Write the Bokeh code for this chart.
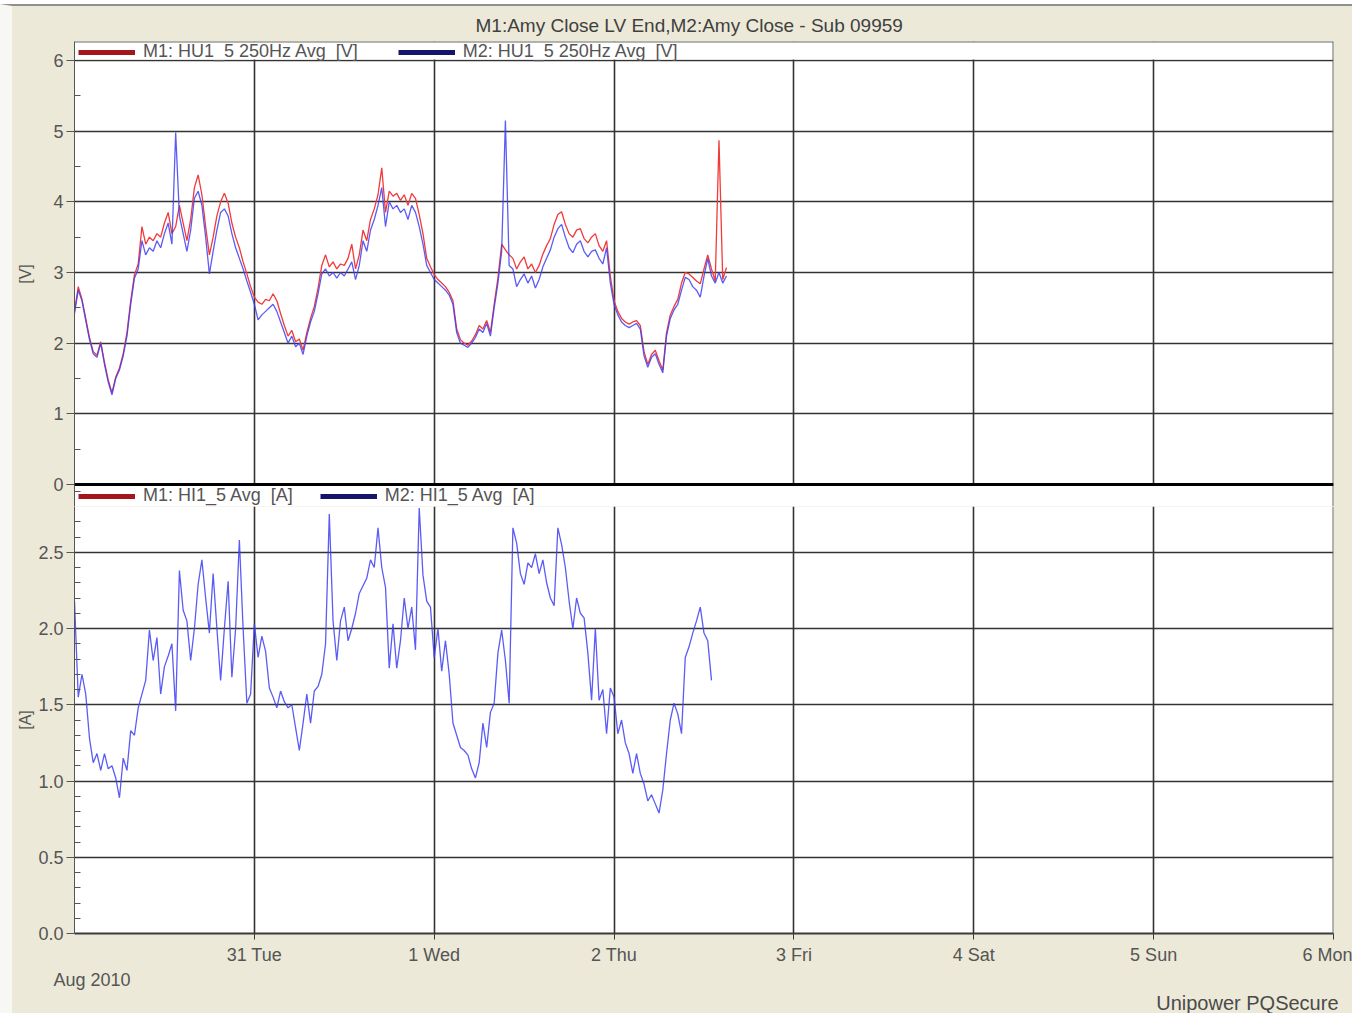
import numpy as np
from bokeh.plotting import figure
from bokeh.layouts import column
from bokeh.models import (Range1d, FixedTicker, BoxAnnotation, Span, Title,
                          Legend, LegendItem)
from bokeh.embed import file_html
from bokeh.resources import INLINE

# ---------------------------------------------------------------- data
TITLE = "M1:Amy Close LV End,M2:Amy Close - Sub 09959"
FOOTER = "Unipower PQSecure"
MONTH_LABEL = "Aug 2010"

# hours from Jul 30 00:00
DAY_TICKS_H = [24, 48, 72, 96, 120, 144, 168]
DAY_LABELS = ["31 Tue", "1 Wed", "2 Thu", "3 Fri", "4 Sat", "5 Sun", "6 Mon"]

V_TICKS = [0, 1, 2, 3, 4, 5, 6]
V_TICK_LABELS = ["0", "1", "2", "3", "4", "5", "6"]
A_TICKS = [0.0, 0.5, 1.0, 1.5, 2.0, 2.5]
A_TICK_LABELS = ["0.0", "0.5", "1.0", "1.5", "2.0", "2.5"]

SERIES_V = ["M1: HU1_5 250Hz Avg  [V]", "M2: HU1_5 250Hz Avg  [V]"]
SERIES_A = ["M1: HI1_5 Avg  [A]", "M2: HI1_5 Avg  [A]"]

SAMPLE_STEP_H = 0.5  # logger averaging interval, hours

# 5th harmonic voltage (250 Hz), V
M1_V = [2.45, 2.8, 2.62, 2.35, 2.08, 1.88, 1.83, 2.02, 1.73, 1.48,
        1.3, 1.52, 1.65, 1.85, 2.15, 2.6, 2.97, 3.12, 3.65, 3.4,
        3.5, 3.45, 3.55, 3.5, 3.7, 3.85, 3.55, 3.65, 3.95, 3.7,
        3.45, 3.75, 4.2, 4.38, 4.1, 3.65, 3.25, 3.5, 3.8, 4.0,
        4.12, 3.98, 3.7, 3.5, 3.35, 3.15, 2.98, 2.8, 2.65, 2.58,
        2.55, 2.62, 2.6, 2.7, 2.6, 2.42, 2.25, 2.1, 2.18, 2.02,
        2.06, 1.9, 2.15, 2.35, 2.52, 2.78, 3.1, 3.25, 3.08, 3.15,
        3.05, 3.12, 3.1, 3.2, 3.4, 3.05, 3.25, 3.6, 3.45, 3.75,
        3.9, 4.1, 4.48, 3.85, 4.15, 4.08, 4.12, 4.02, 4.1, 3.95,
        4.12, 4.05, 3.82, 3.55, 3.2, 3.08, 2.97, 2.9, 2.85, 2.8,
        2.72, 2.6, 2.2, 2.05, 2.0, 1.97, 2.03, 2.12, 2.25, 2.2,
        2.32, 2.15, 2.55, 2.92, 3.4, 3.32, 3.25, 3.2, 3.05, 3.15,
        3.22, 3.05, 3.12, 3.0, 3.1, 3.26, 3.38, 3.48, 3.68, 3.82,
        3.86, 3.68, 3.55, 3.5, 3.6, 3.62, 3.48, 3.42, 3.5, 3.55,
        3.38, 3.3, 3.45, 2.95, 2.6, 2.45, 2.35, 2.3, 2.27, 2.3,
        2.32, 2.25, 1.88, 1.7, 1.84, 1.9, 1.75, 1.62, 2.15, 2.4,
        2.52, 2.62, 2.85, 3.0, 2.98, 2.93, 2.88, 2.84, 3.05, 3.25,
        3.05, 2.88, 4.87, 2.9, 3.07]

M2_V = [2.42, 2.75, 2.6, 2.32, 2.05, 1.85, 1.8, 2.0, 1.7, 1.45,
        1.27, 1.5, 1.62, 1.82, 2.1, 2.55, 2.92, 3.05, 3.45, 3.25,
        3.35, 3.3, 3.45, 3.35, 3.55, 3.7, 3.4, 4.98, 3.8, 3.55,
        3.3, 3.6, 4.05, 4.15, 3.95, 3.5, 2.98, 3.3, 3.6, 3.85,
        3.9, 3.8, 3.55, 3.35, 3.2, 3.05, 2.88, 2.72, 2.55, 2.33,
        2.4, 2.45, 2.5, 2.55, 2.45, 2.3, 2.15, 2.0, 2.1, 1.95,
        2.0, 1.84, 2.1, 2.3, 2.45, 2.7, 2.98, 3.05, 2.95, 3.0,
        2.92, 3.0, 2.95, 3.05, 3.15, 2.9, 3.1, 3.45, 3.3, 3.6,
        3.75, 3.95, 4.2, 3.65, 4.0, 3.9, 3.95, 3.85, 3.9, 3.75,
        3.95, 3.85, 3.65, 3.4, 3.1, 3.0, 2.9, 2.85, 2.8, 2.75,
        2.68, 2.55, 2.15, 2.0, 1.97, 1.94, 2.0, 2.08, 2.2, 2.15,
        2.28, 2.1, 2.5, 2.85, 3.3, 5.15, 3.1, 3.05, 2.8, 2.9,
        2.98, 2.85, 2.95, 2.78, 2.9, 3.08, 3.2, 3.32, 3.5, 3.62,
        3.68, 3.5, 3.35, 3.28, 3.4, 3.45, 3.3, 3.22, 3.3, 3.32,
        3.2, 3.12, 3.35, 2.85, 2.55, 2.4, 2.3, 2.25, 2.22, 2.25,
        2.28, 2.2, 1.82, 1.66, 1.8, 1.85, 1.7, 1.58, 2.1, 2.35,
        2.47, 2.55, 2.75, 2.93, 2.9, 2.8, 2.75, 2.65, 2.95, 3.2,
        2.95, 2.85, 3.0, 2.85, 2.95]

# 5th harmonic current, A (no M1 current channel recorded)
M1_A = []
M2_A = [2.18, 1.55, 1.70, 1.57, 1.28, 1.12, 1.18, 1.07, 1.18, 1.08,
        1.1, 1.02, 0.89, 1.15, 1.07, 1.33, 1.3, 1.48, 1.57, 1.66,
        1.99, 1.79, 1.94, 1.57, 1.75, 1.82, 1.9, 1.46, 2.38, 2.12,
        2.05, 1.79, 2.0, 2.29, 2.45, 2.2, 1.97, 2.36, 2.0, 1.66,
        2.0, 2.31, 1.68, 2.0, 2.58, 2.0, 1.51, 1.57, 2.03, 1.81,
        1.95, 1.85, 1.61, 1.55, 1.48, 1.59, 1.52, 1.48, 1.5, 1.35,
        1.2, 1.38, 1.57, 1.38, 1.59, 1.62, 1.7, 1.9, 2.75, 2.05,
        1.79, 2.05, 2.14, 1.92, 2.0, 2.1, 2.23, 2.28, 2.33, 2.45,
        2.4, 2.66, 2.4, 2.27, 1.74, 2.03, 1.74, 1.92, 2.2, 2.0,
        2.14, 1.86, 2.79, 2.35, 2.18, 2.14, 1.81, 2.0, 1.72, 1.92,
        1.7, 1.38, 1.3, 1.22, 1.2, 1.17, 1.08, 1.02, 1.12, 1.38,
        1.22, 1.45, 1.51, 1.84, 1.99, 1.79, 1.51, 2.66, 2.56, 2.36,
        2.29, 2.43, 2.4, 2.49, 2.36, 2.45, 2.3, 2.2, 2.15, 2.66,
        2.55, 2.4, 2.18, 2.0, 2.2, 2.1, 2.07, 1.84, 1.53, 2.0,
        1.53, 1.6, 1.31, 1.61, 1.55, 1.31, 1.4, 1.25, 1.18, 1.05,
        1.18, 1.05, 0.98, 0.87, 0.91, 0.85, 0.79, 0.94, 1.18, 1.40,
        1.51, 1.44, 1.31, 1.81, 1.88, 1.97, 2.05, 2.14, 1.97, 1.92,
        1.66]


def hours(values):
    return [i * SAMPLE_STEP_H for i in range(len(values))]


# ---------------------------------------------------------------- style
FONT = "Liberation Sans"
BEIGE = "#ECE9D8"
GRID = "#333333"
FRAME = "#6a6a6a"
TEXT = "#555555"
RED = "#f23a3a"
BLUE = "#3e3ef4"
LEG_RED = "#a3161c"
LEG_BLUE = "#15156c"

# window edge: light strip on the left, grey rule along the top
EDGE_LEFT, EDGE_GAP, EDGE_RULE = 12, 4, 2
WIDTH = 1352 - EDGE_LEFT
LEFT, RIGHT = 74 - EDGE_LEFT, 19    # frame margins inside the canvases, px
X_RANGE = (0, 168)

# vertical layout (page px): voltage frame 41..506, current frame 506..933
V_PX = 70.67                    # px per volt
A_PX = 152.5                    # px per amp
V_TOP_PX, V_ZERO_PX, SPLIT_PX, A_ZERO_PX = 41, 484, 506, 933
V_RANGE = (-(SPLIT_PX - V_ZERO_PX) / V_PX, (V_ZERO_PX - V_TOP_PX) / V_PX)
A_RANGE = (0, (A_ZERO_PX - SPLIT_PX) / A_PX)
TOP_OFFSET = EDGE_GAP + EDGE_RULE


def style_panel(p, label, standoff):
    p.border_fill_color = BEIGE
    p.background_fill_color = "white"
    p.outline_line_alpha = 0
    ax = p.yaxis[0]
    ax.axis_label = label
    ax.axis_label_standoff = standoff
    ax.axis_line_color = "#555555"
    ax.major_tick_line_color = "#555555"
    ax.minor_tick_line_color = "#555555"
    ax.major_tick_out = 8
    ax.major_tick_in = 0
    ax.minor_tick_out = 0
    ax.minor_tick_in = 6
    ax.major_label_standoff = 3
    ax.major_label_text_font = FONT
    ax.major_label_text_font_size = "18px"
    ax.major_label_text_color = TEXT
    ax.axis_label_text_font = FONT
    ax.axis_label_text_font_size = "16px"
    ax.axis_label_text_font_style = "normal"
    ax.axis_label_text_color = TEXT
    p.ygrid.grid_line_color = GRID
    p.ygrid.grid_line_width = 1.6
    p.xgrid.ticker = FixedTicker(ticks=DAY_TICKS_H)
    p.xgrid.grid_line_color = GRID
    p.xgrid.grid_line_width = 1.6
    p.add_layout(Span(location=X_RANGE[1], dimension="height",
                      line_color=FRAME, line_width=2))


def add_legend(p, labels, vy, spacing):
    # thick sample lines for the legend keys (NaN data: nothing drawn in the frame)
    r1 = p.line(x=[np.nan], y=[np.nan], line_color=LEG_RED, line_width=5)
    r2 = p.line(x=[np.nan], y=[np.nan], line_color=LEG_BLUE, line_width=5)
    leg = Legend(items=[LegendItem(label=labels[0], renderers=[r1]),
                        LegendItem(label=labels[1], renderers=[r2])],
                 location=(4, vy), orientation="horizontal",
                 glyph_width=57, glyph_height=20, label_height=20,
                 label_standoff=8, spacing=spacing, padding=0, margin=0,
                 border_line_alpha=0, background_fill_alpha=0,
                 label_text_font=FONT, label_text_font_size="18px",
                 label_text_color=TEXT)
    p.add_layout(leg)


# ---------------------------------------------------------------- voltage panel
p1 = figure(width=WIDTH, height=SPLIT_PX - TOP_OFFSET,
            x_range=Range1d(*X_RANGE), y_range=Range1d(*V_RANGE),
            output_backend="svg", toolbar_location=None, x_axis_location=None,
            min_border_left=LEFT, min_border_right=RIGHT,
            min_border_top=V_TOP_PX - TOP_OFFSET, min_border_bottom=0, title=TITLE)
style_panel(p1, "[V]", 16)

# 2.9 A minor tick falls inside this canvas (just below the 0 V line)
a29_in_v = V_RANGE[0] + (2.9 - A_RANGE[1]) * A_PX / V_PX
p1.yaxis.ticker = FixedTicker(ticks=V_TICKS,
                              minor_ticks=[v + 0.5 for v in V_TICKS[:-1]] + [a29_in_v])
p1.yaxis.major_label_overrides = dict(zip(V_TICKS, V_TICK_LABELS))

p1.title.align = "left"
p1.title.offset = 401
p1.title.text_font = FONT
p1.title.text_font_size = "19px"
p1.title.text_font_style = "normal"
p1.title.text_color = "#404040"
p1.title.standoff = 12

# legend strips hide the day lines
p1.add_layout(BoxAnnotation(bottom=6.015, fill_color="white", fill_alpha=1,
                            line_alpha=0, level="glyph"))
p1.add_layout(BoxAnnotation(top=-0.02, fill_color="white", fill_alpha=1,
                            line_alpha=0, level="glyph"))

p1.line(hours(M1_V), M1_V, line_color=RED, line_width=1.3)
p1.line(hours(M2_V), M2_V, line_color=BLUE, line_width=1.3, line_alpha=0.85)

p1.add_layout(Span(location=0, dimension="width", line_color="black", line_width=3))
p1.add_layout(Span(location=V_RANGE[1], dimension="width", line_color=FRAME, line_width=2))

add_legend(p1, SERIES_V, SPLIT_PX - 62, 40)
add_legend(p1, SERIES_A, 0, 27)

# ---------------------------------------------------------------- current panel
p2 = figure(width=WIDTH, height=1013 - SPLIT_PX, x_range=p1.x_range, y_range=Range1d(*A_RANGE),
            output_backend="svg", toolbar_location=None,
            min_border_left=LEFT, min_border_right=RIGHT, min_border_top=0,
            min_border_bottom=1013 - A_ZERO_PX)
style_panel(p2, "[A]", 1)
p2.yaxis.ticker = FixedTicker(ticks=A_TICKS,
                              minor_ticks=[round(i * 0.1, 1) for i in range(28) if i % 5])
p2.yaxis.major_label_overrides = dict(zip(A_TICKS, A_TICK_LABELS))

xa = p2.xaxis[0]
xa.ticker = FixedTicker(ticks=DAY_TICKS_H, minor_ticks=[])
xa.major_label_overrides = dict(zip(DAY_TICKS_H, DAY_LABELS))
xa.axis_line_color = "#3a3a3a"
xa.axis_line_width = 2
xa.major_tick_line_color = "#3a3a3a"
xa.major_tick_out = 6
xa.major_tick_in = 0
xa.major_label_standoff = 5
xa.major_label_text_font = FONT
xa.major_label_text_font_size = "18px"
xa.major_label_text_color = TEXT

p2.line(hours(M1_A), M1_A, line_color=RED, line_width=1.3)
p2.line(hours(M2_A), M2_A, line_color=BLUE, line_width=1.3, line_alpha=0.85)

p2.add_layout(Title(text=MONTH_LABEL, align="left", offset=-21, standoff=0,
                    text_font=FONT, text_font_size="18px", text_font_style="normal",
                    text_color=TEXT), "below")
p2.add_layout(Title(text=FOOTER, align="right", offset=-5, standoff=0,
                    text_font=FONT, text_font_size="20px", text_font_style="normal",
                    text_color="#4a4a4a"), "below")

layout = column(p1, p2, styles={"background-color": BEIGE,
                                "border-left": f"{EDGE_LEFT}px solid #f7f7f3",
                                "border-top": f"{EDGE_RULE}px solid #8f8f8f",
                                "margin-top": f"{EDGE_GAP}px"})
open("out.html", "w").write(file_html(layout, INLINE))
